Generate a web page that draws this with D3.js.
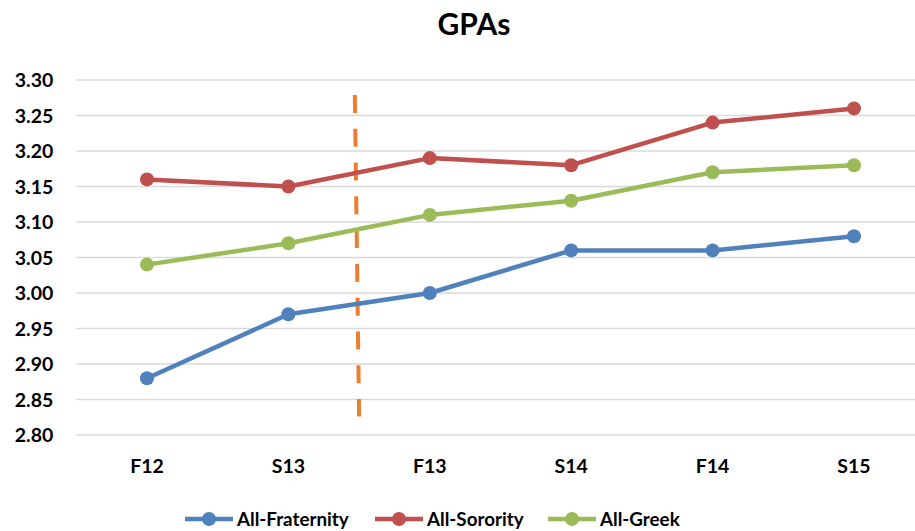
<!DOCTYPE html>
<html>
<head>
<meta charset="utf-8">
<script src="https://cdn.jsdelivr.net/npm/d3@7"></script>
<style>
  html, body { margin: 0; padding: 0; background: #fff; }
  svg { display: block; }
  text { font-family: Lato, "Open Sans", sans-serif; font-weight: bold; fill: #000; }
</style>
</head>
<body>
<svg id="chart" width="915" height="531"></svg>
<script>
const categories = ["F12", "S13", "F13", "S14", "F14", "S15"];
const fraternity = [2.88, 2.97, 3.00, 3.06, 3.06, 3.08];
const sorority   = [3.16, 3.15, 3.19, 3.18, 3.24, 3.26];
const greek      = [3.04, 3.07, 3.11, 3.13, 3.17, 3.18];
const seriesNames = ["All-Fraternity", "All-Sorority", "All-Greek"];
const yTicks = [2.80, 2.85, 2.90, 2.95, 3.00, 3.05, 3.10, 3.15, 3.20, 3.25, 3.30];
// dashed annotation between S13 and F13 (category index position, value)
const dashTop = [1.47, 3.279];
const dashBottom = [1.50, 2.826];

const colors = ["#4F81BD", "#C0504D", "#9BBB59"];
const seriesData = [fraternity, sorority, greek];

const svg = d3.select("#chart");
const pLeft = 76.3, pRight = 924.7, pTop = 80, pBottom = 435;

const x = d3.scaleBand().domain(categories).range([pLeft, pRight]);
const xi = d3.scaleLinear().domain([0, categories.length - 1])
  .range([x(categories[0]) + x.bandwidth() / 2, x(categories[categories.length - 1]) + x.bandwidth() / 2]);
const y = d3.scaleLinear().domain([2.80, 3.30]).range([pBottom, pTop]);

// gridlines
svg.append("g")
  .selectAll("line").data(yTicks).join("line")
  .attr("x1", pLeft).attr("x2", pRight)
  .attr("y1", d => y(d)).attr("y2", d => y(d))
  .attr("stroke", "#D9D9D9").attr("stroke-width", 1.3);

// y axis labels
const yAxis = d3.axisLeft(y).tickValues(yTicks).tickFormat(d3.format(".2f")).tickSize(0).tickPadding(0);
const gy = svg.append("g").attr("transform", `translate(${pLeft - 23},0)`).call(yAxis);
gy.select(".domain").remove();
gy.selectAll("text").attr("font-size", 19.5).attr("dy", "0.35em")
  .style("font-family", "Lato, sans-serif").style("font-weight", "bold").attr("fill", "#000");

// x axis labels
const xAxis = d3.axisBottom(x).tickSize(0).tickPadding(0);
const gx = svg.append("g").attr("transform", `translate(0,${pBottom + 24})`).call(xAxis);
gx.select(".domain").remove();
gx.selectAll("text").attr("font-size", 19.5).attr("dy", "0.71em")
  .style("font-family", "Lato, sans-serif").style("font-weight", "bold").attr("fill", "#000");

// title
svg.append("text").attr("x", 474).attr("y", 35).attr("text-anchor", "middle")
  .attr("font-size", 30).text("GPAs");

// dashed line
svg.append("line")
  .attr("x1", xi(dashTop[0])).attr("y1", y(dashTop[1]))
  .attr("x2", xi(dashBottom[0])).attr("y2", y(dashBottom[1]))
  .attr("stroke", "#ED7D31").attr("stroke-width", 4)
  .attr("stroke-dasharray", "18,15.8");

// series
const line = d3.line().x((d, i) => xi(i)).y(d => y(d));
seriesData.forEach((vals, s) => {
  const g = svg.append("g");
  g.append("path").datum(vals).attr("d", line)
    .attr("fill", "none").attr("stroke", colors[s]).attr("stroke-width", 4.5)
    .attr("stroke-linejoin", "round");
  g.selectAll("circle").data(vals).join("circle")
    .attr("cx", (d, i) => xi(i)).attr("cy", d => y(d)).attr("r", 7)
    .attr("fill", colors[s]);
});

// legend
const legendX = [185, 375, 548];
const lg = svg.append("g");
seriesNames.forEach((name, s) => {
  const g = lg.append("g").attr("transform", `translate(${legendX[s]},519)`);
  g.append("line").attr("x1", 0).attr("x2", 48).attr("y1", 0).attr("y2", 0)
    .attr("stroke", colors[s]).attr("stroke-width", 4.5);
  g.append("circle").attr("cx", 24).attr("cy", 0).attr("r", 7).attr("fill", colors[s]);
  g.append("text").attr("x", 52).attr("y", 0).attr("dy", "0.35em")
    .attr("font-size", 18.8).text(name);
});
</script>
</body>
</html>
